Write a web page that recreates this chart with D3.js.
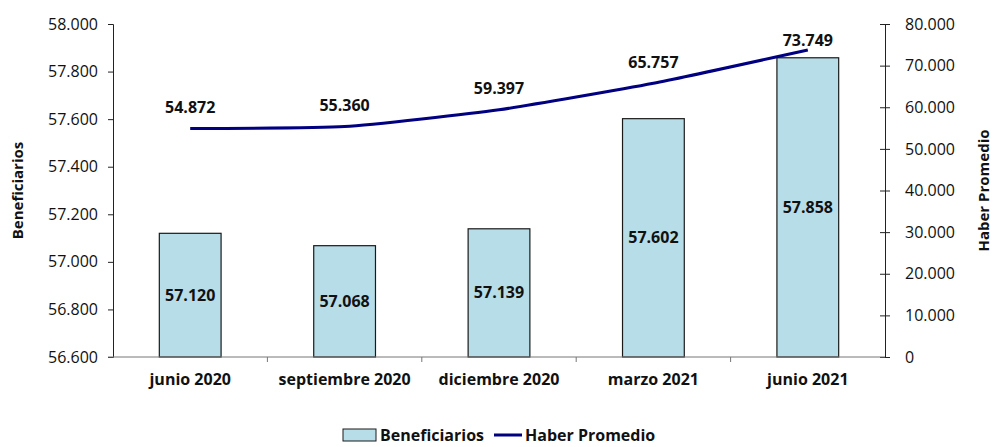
<!doctype html>
<html lang="es">
<head>
  <meta charset="utf-8">
  <title>Beneficiarios y Haber Promedio - D3</title>
  <style>
    body { margin: 0; background: #fff; }
    svg { display: block; font-family: "Open Sans", "Noto Sans", sans-serif; }
  </style>
</head>
<body>
  <svg></svg>
  <script src="https://cdn.jsdelivr.net/npm/d3@7"></script>
  <script>
    // datos
    var categories = ['junio 2020', 'septiembre 2020', 'diciembre 2020', 'marzo 2021', 'junio 2021'];
    var beneficiarios = [57120, 57068, 57139, 57602, 57858];
    var haberPromedio = [54872, 55360, 59397, 65757, 73749];
    var leftTicks = [56600, 56800, 57000, 57200, 57400, 57600, 57800, 58000];
    var rightTicks = [0, 10000, 20000, 30000, 40000, 50000, 60000, 70000, 80000];

    var width = 993, height = 447;
    var plotLeft = 113, plotRight = 885, plotTop = 24, plotBottom = 357;

    var svg = d3.select('svg').attr('width', width).attr('height', height);

    var es = d3.formatLocale({ decimal: ',', thousands: '.', grouping: [3], currency: ['$', ''] });
    var fmt = es.format(',');

    var x = d3.scaleBand().domain(categories).range([plotLeft, plotRight]).padding(0);
    var yL = d3.scaleLinear().domain([56600, 58000]).range([plotBottom, plotTop]);
    var yR = d3.scaleLinear().domain([0, 80000]).range([plotBottom, plotTop]);

    // barras
    var barW = x.bandwidth() * 0.4;
    svg.append('g').selectAll('rect').data(beneficiarios).enter()
      .append('rect')
      .attr('x', (v, i) => x(categories[i]) + (x.bandwidth() - barW) / 2)
      .attr('y', v => yL(v))
      .attr('width', barW)
      .attr('height', v => plotBottom - yL(v))
      .attr('fill', '#b7dde8')
      .attr('stroke', '#1a1a1a')
      .attr('stroke-width', 1.2);

    // etiquetas de barras
    svg.append('g').selectAll('text').data(beneficiarios).enter()
      .append('text')
      .attr('x', (v, i) => x(categories[i]) + x.bandwidth() / 2)
      .attr('y', v => (yL(v) + plotBottom) / 2)
      .attr('dy', '0.35em')
      .attr('text-anchor', 'middle')
      .attr('font-size', 16)
      .attr('font-weight', 'bold')
      .attr('fill', '#111')
      .text(v => fmt(v));

    // ejes
    var axL = svg.append('g').attr('transform', 'translate(' + plotLeft + ',0)')
      .call(d3.axisLeft(yL).tickValues(leftTicks).tickFormat(fmt).tickSize(5).tickPadding(10));
    var axR = svg.append('g').attr('transform', 'translate(' + plotRight + ',0)')
      .call(d3.axisRight(yR).tickValues(rightTicks).tickFormat(fmt).tickSize(5).tickPadding(15));
    axR.selectAll('.tick line').attr('x1', -5);
    var axB = svg.append('g').attr('transform', 'translate(0,' + plotBottom + ')')
      .call(d3.axisBottom(x).tickSize(0).tickPadding(17));

    [axL, axR].forEach(function (g) {
      g.select('.domain').attr('stroke', '#222');
      g.selectAll('.tick line').attr('stroke', '#222');
      g.selectAll('.tick text').attr('font-size', 16).attr('fill', '#111')
        .attr('font-family', '"Open Sans", sans-serif');
    });
    axB.select('.domain').attr('d', 'M' + (plotLeft - 5) + ',0H' + plotRight).attr('stroke', '#777');
    axB.selectAll('.tick text').attr('font-size', 16).attr('font-weight', 'bold').attr('fill', '#111')
      .attr('font-family', '"Open Sans", sans-serif');

    // marcas entre categorías
    svg.append('g').selectAll('line').data(categories.slice(1)).enter()
      .append('line')
      .attr('x1', c => x(c)).attr('x2', c => x(c))
      .attr('y1', plotBottom).attr('y2', plotBottom + 5)
      .attr('stroke', '#777');

    // línea haber promedio
    var cx = (v, i) => x(categories[i]) + x.bandwidth() / 2;
    svg.append('path')
      .datum(haberPromedio)
      .attr('fill', 'none')
      .attr('stroke', '#000080')
      .attr('stroke-width', 3)
      .attr('d', d3.line().x(cx).y(v => yR(v)).curve(d3.curveCardinal.tension(0.5)));

    svg.append('g').selectAll('text').data(haberPromedio).enter()
      .append('text')
      .attr('x', cx)
      .attr('y', v => Math.max(yR(v) - 21, 40))
      .attr('dy', '0.35em')
      .attr('text-anchor', 'middle')
      .attr('font-size', 16)
      .attr('font-weight', 'bold')
      .attr('fill', '#111')
      .text(v => fmt(v));

    // títulos de ejes
    svg.append('text')
      .attr('transform', 'translate(18,' + (plotTop + plotBottom) / 2 + ') rotate(-90)')
      .attr('text-anchor', 'middle').attr('dy', '0.35em')
      .attr('font-size', 15).attr('font-weight', 'bold').attr('fill', '#111')
      .text('Beneficiarios');
    svg.append('text')
      .attr('transform', 'translate(984,' + (plotTop + plotBottom) / 2 + ') rotate(-90)')
      .attr('text-anchor', 'middle').attr('dy', '0.35em')
      .attr('font-size', 15).attr('font-weight', 'bold').attr('fill', '#111')
      .text('Haber Promedio');

    // leyenda
    var lg = svg.append('g').attr('transform', 'translate(343,435)');
    lg.append('rect').attr('x', 0).attr('y', -6).attr('width', 33).attr('height', 12)
      .attr('fill', '#b7dde8').attr('stroke', '#1a1a1a');
    lg.append('text').attr('x', 37).attr('dy', '0.35em')
      .attr('font-size', 16).attr('font-weight', 'bold').attr('fill', '#111').text('Beneficiarios');
    lg.append('line').attr('x1', 151).attr('x2', 179).attr('y1', 0).attr('y2', 0)
      .attr('stroke', '#000080').attr('stroke-width', 3);
    lg.append('text').attr('x', 182).attr('dy', '0.35em')
      .attr('font-size', 16).attr('font-weight', 'bold').attr('fill', '#111').text('Haber Promedio');
  </script>
</body>
</html>
